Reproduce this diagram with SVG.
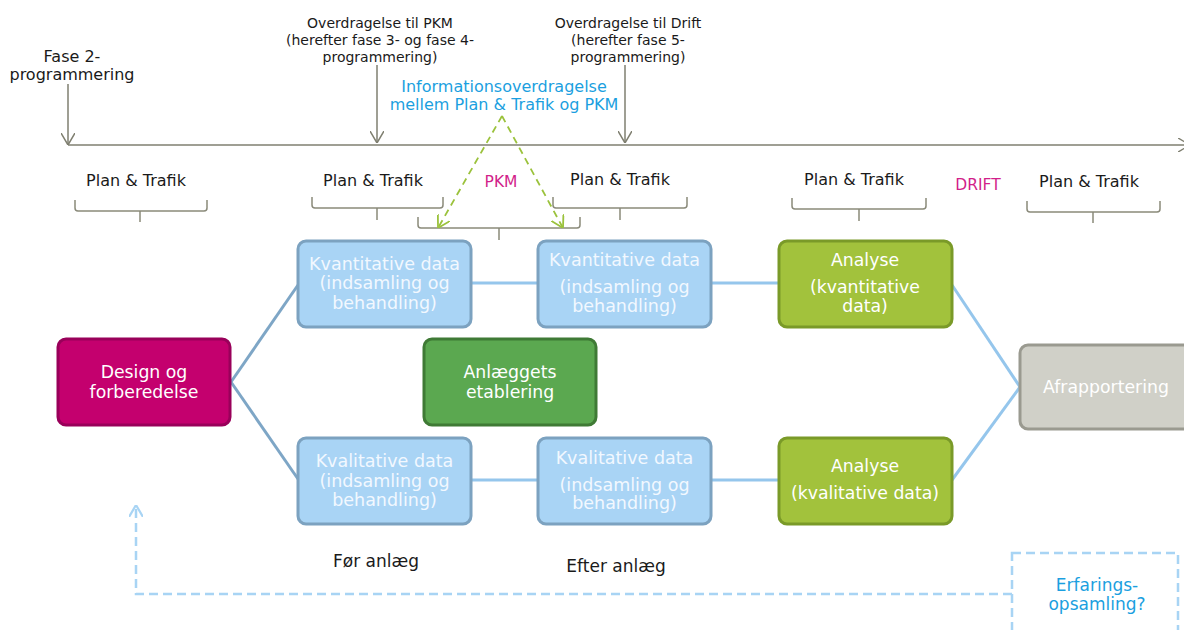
<svg xmlns="http://www.w3.org/2000/svg" width="1184" height="630" viewBox="0 0 1184 630">
<style>
text{font-family:"DejaVu Sans","Verdana",sans-serif;}
.blk{fill:#1a1a1a;font-size:16px;text-anchor:middle;}
.sm{fill:#1a1a1a;font-size:14px;text-anchor:middle;}
.blu{fill:#1b9fe0;font-size:16px;text-anchor:middle;}
.mag{fill:#d21f8a;font-size:15.5px;text-anchor:middle;}
.wt{fill:#ffffff;font-size:17.3px;text-anchor:middle;}
.lt{fill:#f2f8ff;font-size:17.5px;text-anchor:middle;}
.tl{stroke:#7f7f70;stroke-width:1.5;fill:none;}
.br{stroke:#8a8a7a;stroke-width:1.5;fill:none;}
.kv{fill:#a9d4f5;stroke:#7ca2c0;stroke-width:3;}
.an{fill:#a2c23c;stroke:#7a9a28;stroke-width:3;}
.c1{stroke:#7ea6c6;stroke-width:3;fill:none;}
.c2{stroke:#95c6ec;stroke-width:3;fill:none;}
</style>
<defs>
<marker id="ag" viewBox="0 0 12 14" refX="12" refY="7" markerWidth="12" markerHeight="14" markerUnits="userSpaceOnUse" orient="auto"><path d="M0,0 L12,7 L0,14" fill="none" stroke="#7f7f70" stroke-width="1.5"/></marker>
<marker id="agr" viewBox="0 0 12 14" refX="12" refY="7" markerWidth="12" markerHeight="14" markerUnits="userSpaceOnUse" orient="auto"><path d="M0,0 L12,7 L0,14" fill="none" stroke="#9bc23c" stroke-width="1.8"/></marker>
<marker id="abl" viewBox="0 0 12 14" refX="12" refY="7" markerWidth="12" markerHeight="14" markerUnits="userSpaceOnUse" orient="auto"><path d="M0,0 L12,7 L0,14" fill="none" stroke="#a8d4f4" stroke-width="2.2"/></marker>
</defs>

<g id="timeline">
<line class="tl" x1="68" y1="145" x2="1190" y2="145" marker-end="url(#ag)"/>
<line class="tl" x1="68" y1="84" x2="68" y2="145" marker-end="url(#ag)"/>
<line class="tl" x1="377" y1="65" x2="377" y2="143" marker-end="url(#ag)"/>
<line class="tl" x1="625" y1="65" x2="625" y2="143" marker-end="url(#ag)"/>
<text class="blk" x="72" y="62">Fase 2-</text>
<text class="blk" x="72" y="80">programmering</text>
<text class="sm" x="380" y="28">Overdragelse til PKM</text>
<text class="sm" x="380" y="45">(herefter fase 3- og fase 4-</text>
<text class="sm" x="380" y="62">programmering)</text>
<text class="sm" x="628" y="28">Overdragelse til Drift</text>
<text class="sm" x="628" y="45">(herefter fase 5-</text>
<text class="sm" x="628" y="62">programmering)</text>
<text class="blu" x="504" y="92">Informationsoverdragelse</text>
<text class="blu" x="504" y="110">mellem Plan &amp; Trafik og PKM</text>
</g>

<g id="labels">
<text class="blk" x="136" y="186">Plan &amp; Trafik</text>
<text class="blk" x="373" y="186">Plan &amp; Trafik</text>
<text class="blk" x="620" y="185">Plan &amp; Trafik</text>
<text class="blk" x="854" y="185">Plan &amp; Trafik</text>
<text class="blk" x="1089" y="187">Plan &amp; Trafik</text>
<text class="mag" x="501" y="187">PKM</text>
<text class="mag" x="978" y="190">DRIFT</text>
</g>

<g id="brackets">
<path class="br" d="M75,200 L75,208 Q75,211 78,211 L204,211 Q207,211 207,208 L207,200 M140,211 L140,222"/>
<path class="br" d="M312,197 L312,205 Q312,208 315,208 L440,208 Q443,208 443,205 L443,197 M377,208 L377,220"/>
<path class="br" d="M553,197 L553,205 Q553,208 556,208 L684,208 Q687,208 687,205 L687,197 M620,208 L620,220"/>
<path class="br" d="M418,217 L418,225 Q418,228 421,228 L577,228 Q580,228 580,225 L580,217 M499,228 L499,240"/>
<path class="br" d="M792,198 L792,206 Q792,209 795,209 L923,209 Q926,209 926,206 L926,198 M859,209 L859,221"/>
<path class="br" d="M1027,201 L1027,209 Q1027,212 1030,212 L1157,212 Q1160,212 1160,209 L1160,201 M1093,212 L1093,223"/>
</g>

<g id="connectors">
<line class="c1" x1="231" y1="382" x2="298" y2="285"/>
<line class="c1" x1="231" y1="382" x2="298" y2="479"/>
<line class="c2" x1="471" y1="283" x2="538" y2="283"/>
<line class="c2" x1="711" y1="283" x2="778" y2="283"/>
<line class="c2" x1="471" y1="480" x2="538" y2="480"/>
<line class="c2" x1="711" y1="480" x2="778" y2="480"/>
<line class="c2" x1="952" y1="285" x2="1020" y2="387"/>
<line class="c2" x1="952" y1="480" x2="1020" y2="387" stroke="#8cc4ee"/>
<path d="M502,116 L438,228" fill="none" stroke="#9bc23c" stroke-width="1.8" stroke-dasharray="7,5" marker-end="url(#agr)"/>
<path d="M502,116 L563,228" fill="none" stroke="#9bc23c" stroke-width="1.8" stroke-dasharray="7,5" marker-end="url(#agr)"/>
<path d="M1012,594 L136,594 L136,505" fill="none" stroke="#a8d4f4" stroke-width="2.5" stroke-dasharray="9,5" marker-end="url(#abl)"/>
</g>

<g id="design">
<rect x="58" y="339" width="172" height="86" rx="8" fill="#c4006e" stroke="#99005a" stroke-width="3"/>
<text class="wt" x="144" y="378">Design og</text>
<text class="wt" x="144" y="398">forberedelse</text>
</g>

<g id="kvant1">
<rect class="kv" x="298" y="241" width="173" height="86" rx="8"/>
<text class="lt" x="384.5" y="270">Kvantitative data</text>
<text class="lt" x="384.5" y="289">(indsamling og</text>
<text class="lt" x="384.5" y="309">behandling)</text>
</g>

<g id="kval1">
<rect class="kv" x="298" y="438" width="173" height="86" rx="8"/>
<text class="lt" x="384.5" y="467">Kvalitative data</text>
<text class="lt" x="384.5" y="487">(indsamling og</text>
<text class="lt" x="384.5" y="506">behandling)</text>
</g>

<g id="kvant2">
<rect class="kv" x="538" y="241" width="173" height="86" rx="8"/>
<text class="lt" x="624.5" y="266">Kvantitative data</text>
<text class="lt" x="624.5" y="293">(indsamling og</text>
<text class="lt" x="624.5" y="312">behandling)</text>
</g>

<g id="kval2">
<rect class="kv" x="538" y="438" width="173" height="86" rx="8"/>
<text class="lt" x="624.5" y="464">Kvalitative data</text>
<text class="lt" x="624.5" y="491">(indsamling og</text>
<text class="lt" x="624.5" y="509">behandling)</text>
</g>

<g id="anlaeg">
<rect x="424" y="339" width="172" height="86" rx="8" fill="#5ba850" stroke="#3f7a35" stroke-width="3"/>
<text class="wt" x="510" y="378">Anlæggets</text>
<text class="wt" x="510" y="398">etablering</text>
</g>

<g id="analyse1">
<rect class="an" x="779" y="241" width="173" height="86" rx="8"/>
<text class="wt" x="865" y="266">Analyse</text>
<text class="wt" x="865" y="293">(kvantitative</text>
<text class="wt" x="865" y="312">data)</text>
</g>

<g id="analyse2">
<rect class="an" x="779" y="438" width="173" height="86" rx="8"/>
<text class="wt" x="865" y="472">Analyse</text>
<text class="wt" x="865" y="499">(kvalitative data)</text>
</g>

<g id="afrapportering">
<rect x="1020" y="345" width="180" height="84" rx="8" fill="#d0d0c8" stroke="#9a9a90" stroke-width="3"/>
<text class="wt" x="1106" y="393">Afrapportering</text>
</g>

<g id="erfaring">
<rect x="1012" y="553" width="166" height="90" fill="none" stroke="#a8d4f4" stroke-width="2.5" stroke-dasharray="9,5"/>
<text class="blu" x="1097" y="591" style="font-size:17px">Erfarings-</text>
<text class="blu" x="1097" y="610" style="font-size:17px">opsamling?</text>
</g>

<g id="phases">
<text class="blk" x="376" y="567" style="font-size:17px">Før anlæg</text>
<text class="blk" x="616" y="572" style="font-size:17px">Efter anlæg</text>
</g>
</svg>
